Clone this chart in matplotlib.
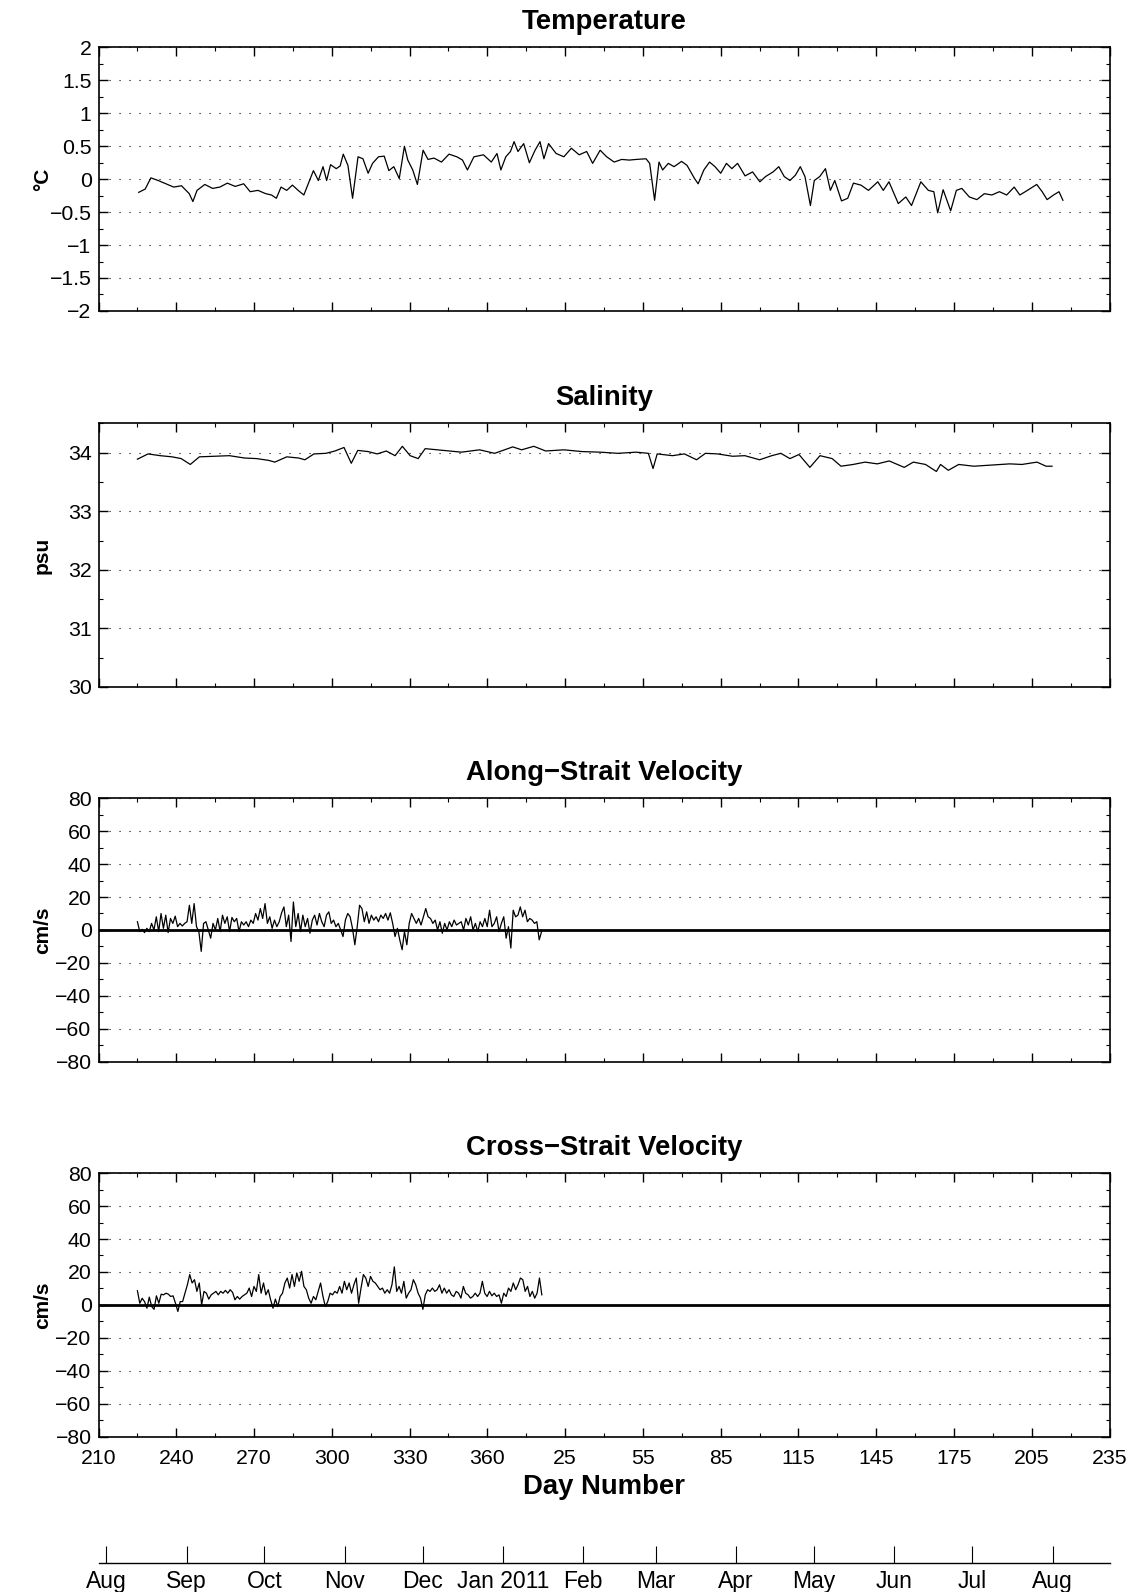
import numpy as np
import matplotlib
matplotlib.use('Agg')
import matplotlib.pyplot as plt
from matplotlib.ticker import MultipleLocator, FixedLocator
from datetime import date

plt.rcParams['font.family'] = ['Liberation Sans', 'DejaVu Sans']
plt.rcParams['axes.unicode_minus'] = True

#######################################################################################
# DATA (day number counted from 1 Jan 2010, so 366 = 1 Jan 2011)
#######################################################################################
temp_day = [225.5, 228, 230.2, 233, 236, 239, 242, 245, 246.4, 248, 251, 254, 256.8,
            259.7, 262.7, 266, 268.5, 271.5, 274.5, 276.7, 278.6, 280.4, 282.6, 284.8,
            287, 289.2, 290.7, 292.9, 294.8, 296.6, 298, 299.5, 301.7, 303.2, 304.4,
            306.2, 308, 310.1, 312, 314, 315.7, 318, 320.2, 322, 323.9, 326, 328, 329.3,
            331.2, 333, 335.2, 337.1, 339.4, 342.3, 345.2, 348.2, 350.4, 352.3, 354.8,
            358.5, 361.5, 363.7, 365.2, 367.1, 368.9, 370.3, 371.8, 374, 376.2, 378.4,
            380.3, 381.8, 383.6, 386.5, 389.5, 392.4, 395.4, 398.3, 400.6, 403.5,
            406, 408.9, 411.8, 414.7, 417.5, 421.2, 422.6, 424.5, 426.2, 427.6, 429.8,
            432, 434.9, 437, 439.9, 441.3, 443.5, 445.7, 447.8, 450, 452.2, 454.3, 456.5,
            459.4, 462.3, 465.1, 467.3, 470.2, 472.4, 474.5, 476.7, 478.8, 480.7, 482.5,
            484.6, 486.1, 488.2, 490.4, 492.3, 494, 496.6, 499, 501.2, 504.1, 507, 510.6,
            512.7, 514.9, 518.5, 521.4, 523.6, 527.2, 530.1, 532.2, 533.7, 535.8, 538.7,
            540.9, 543, 545.9, 548.8, 551.7, 554.6, 557.5, 560.3, 563.2, 565.4, 568.3,
            571.9, 574, 575.9, 578.4, 580.5, 582]
temp_val = [-0.20, -0.15, 0.02, -0.02, -0.07, -0.12, -0.10, -0.22, -0.34, -0.17, -0.08,
            -0.14, -0.12, -0.06, -0.11, -0.07, -0.19, -0.17, -0.22, -0.24, -0.29, -0.12,
            -0.17, -0.09, -0.17, -0.24, -0.09, 0.13, -0.02, 0.19, -0.02, 0.22, 0.16, 0.20,
            0.38, 0.21, -0.29, 0.34, 0.31, 0.09, 0.24, 0.34, 0.35, 0.13, 0.19, 0.01, 0.50,
            0.29, 0.14, -0.08, 0.44, 0.30, 0.32, 0.26, 0.38, 0.34, 0.29, 0.14, 0.34, 0.37,
            0.26, 0.39, 0.14, 0.34, 0.42, 0.57, 0.42, 0.54, 0.25, 0.44, 0.57, 0.31, 0.54,
            0.39, 0.34, 0.47, 0.37, 0.42, 0.24, 0.44,
            0.34, 0.26, 0.30, 0.29, 0.30, 0.31, 0.24, -0.32, 0.26, 0.14, 0.24, 0.19, 0.27,
            0.21, 0.01, -0.07, 0.14, 0.26, 0.19, 0.09, 0.24, 0.16, 0.24, 0.05, 0.11, -0.04,
            0.04, 0.11, 0.19, 0.04, -0.02, 0.06, 0.19, 0.04, -0.40, -0.02, 0.04, 0.16,
            -0.17, -0.02, -0.33, -0.29, -0.06, -0.09, -0.17, -0.04, -0.17, -0.04, -0.37,
            -0.27, -0.40, -0.04, -0.17, -0.19, -0.51, -0.16, -0.48, -0.17, -0.14, -0.27,
            -0.31, -0.22, -0.24, -0.19, -0.24, -0.12, -0.24, -0.17, -0.08, -0.19, -0.31,
            -0.24, -0.19, -0.32]

sal_day = [225, 229.1, 233.8, 238.4, 241.9, 245.4, 248.9, 254.7, 260.5, 266.3, 271,
           275.6, 278, 282.6, 287.2, 289.6, 293.1, 297.7, 301.2, 304.7, 307.5, 310, 314,
           317.5, 321, 324.4, 327.2, 330.2, 333.3, 336, 343, 350, 357, 362.8, 369.8,
           373.2, 377.9, 382.5, 389.5, 396.5, 403.5, 410.4, 417.4, 422.1, 423.9, 425.5,
           431.4, 436, 440.7, 444.1, 448.8, 454.6, 459.3, 465, 469.7, 473.2, 476.7,
           480.2, 484.4, 488.3, 493, 496.4, 501.1, 505.7, 510.4, 515, 520.8, 524.3, 529,
           533.2, 534.8, 537.8, 541.8, 547.6, 554.6, 561.5, 566.2, 572, 575.5, 577.8]
sal_val = [33.89, 33.98, 33.95, 33.93, 33.90, 33.80, 33.93, 33.94, 33.95, 33.91, 33.90,
           33.87, 33.84, 33.93, 33.91, 33.88, 33.98, 33.99, 34.03, 34.09, 33.82, 34.04,
           34.02, 33.98, 34.03, 33.95, 34.11, 33.95, 33.90, 34.07, 34.04, 34.01, 34.05,
           33.99, 34.10, 34.05, 34.11, 34.03, 34.05, 34.02, 34.01, 33.99, 34.01, 33.99,
           33.73, 33.98, 33.95, 33.98, 33.88, 33.99, 33.98, 33.94, 33.95, 33.88, 33.95,
           33.99, 33.90, 33.97, 33.75, 33.95, 33.90, 33.77, 33.80, 33.84, 33.81, 33.86,
           33.75, 33.84, 33.80, 33.68, 33.80, 33.70, 33.80, 33.77, 33.79, 33.81, 33.80,
           33.84, 33.77, 33.77]

# velocities were read at roughly even steps between first and last record
along_start, along_end = 225.0, 380.9
along_val = [5, -1, 0.4, -1.6, 1, -1, 4, 0, 8, -1, 10, 1, 9, -1.6, 7, 4, 8.4, 2, 4, 2.4,
             4, 5, 15, 4, 16, 2, -1, -13, 4, 5, 0, -5, 4, 0, 7, -1, 9, 4, 8, -1, 7.6, 5,
             7, -1, 5, 3, 5, 2, 6, 4, 10, 6, 13, 7, 16, 4, 8, 1, 6, 2, 5, 10.4, 14, 2, 9,
             -7, 17, 2, 10, -1, 9, 2, 7, -2, 6, 9, 3, 10, 5, 2, 9, 11, 4, 6, 2, 4, 0, -4,
             6, 10, 8, 1, -9, 2, 15, 13, 5, 11, 4, 9, 6, 8, 5, 9, 7, 10, 6, 10.4, 4, -4,
             1, -6, -12, -1, -9, 4, 10, 7, 4, 7, 3, 8, 13, 8, 7, 4, 6, 0, 5, -2, 4, 0, 5,
             2, 6, 3, 4, 5, 0, 7, 3, 8, 0, 4, -1, 5, 2, 7, 2, 12, 2, 4, 8, -1, 4, 8, -5,
             2, -11, 12, 8, 9, 14, 8, 12, 5, 7, 6, 4, 5, -6, -1]

cross_start, cross_end = 225.0, 381.0
cross_val = [8.6, 1, 4, 2, -2, 4.7, -1, -2.7, 5.5, 1, 6.5, 6.1, 7.1, 6.5, 5.1, 5.5, 1,
             -4, 2, 2, 7.1, 12.2, 18.4, 13.3, 15.3, 8.2, 13.3, 0, 8.2, 7.1, 3.5, 6.1,
             7.1, 8.2, 6.1, 8.2, 7.1, 8.8, 7.1, 9.2, 7.6, 3.1, 5.1, 3.5, 5.1, 6.1, 7.1,
             10.2, 5.1, 11.2, 8.2, 18.4, 7.1, 13.3, 6.1, 9.2, 3.1, -2, 3.5, -1, 5.1, 7.1,
             13.3, 16.3, 10.2, 18.4, 11.2, 19.4, 14.3, 20.4, 11.2, 9.2, 4.1, 1, 5.1, 3.1,
             8.2, 13.3, 5.1, -1, 2, 7.1, 6.1, 8.2, 7.1, 11.2, 7.1, 14.3, 9.2, 13.3, 7.1,
             12.2, 16.3, 1, 10.2, 18.4, 16.3, 11.2, 17.3, 14.3, 13.3, 11.2, 9.2, 10.2,
             7.1, 9.2, 7.1, 12.2, 23.1, 8.2, 11.2, 7.1, 14.3, 4.1, 7.1, 9.2, 15.3, 12.2,
             7.1, 4.1, -2.7, 6.1, 9.2, 8.2, 10.2, 8.2, 9.2, 12.2, 7.1, 10.2, 7.1, 9.2,
             6.1, 5.1, 8.2, 7.1, 4.1, 11.2, 7.1, 6.1, 4.1, 5.1, 7.1, 5.1, 7.1, 14.3, 7.1,
             5.1, 8.2, 5.5, 7.1, 5.1, 6.1, 1, 7.1, 5.1, 10.2, 8.2, 13.3, 9.2, 12.2, 16.3,
             15.3, 8.2, 11.2, 5.1, 8.2, 4.1, 7.1, 16.3, 6.1]

along_day = np.linspace(along_start, along_end, len(along_val))
cross_day = np.linspace(cross_start, cross_end, len(cross_val))

titles = ['Temperature', 'Salinity', 'Along\u2212Strait Velocity', 'Cross\u2212Strait Velocity']
ylabels = ['\u00b0C', 'psu', 'cm/s', 'cm/s']

month_dates = [date(2010, 8, 1), date(2010, 9, 1), date(2010, 10, 1), date(2010, 11, 1),
               date(2010, 12, 1), date(2011, 1, 1), date(2011, 2, 1), date(2011, 3, 1),
               date(2011, 4, 1), date(2011, 5, 1), date(2011, 6, 1), date(2011, 7, 1),
               date(2011, 8, 1)]
month_labels = ['Aug', 'Sep', 'Oct', 'Nov', 'Dec', 'Jan 2011', 'Feb', 'Mar', 'Apr',
                'May', 'Jun', 'Jul', 'Aug']

#######################################################################################
# PLOTTING
#######################################################################################
xmin, xmax = 210, 600
xticks = np.arange(xmin, xmax + 1, 30)
xticklabels = [str(d if d <= 365 else d - 365) for d in xticks]


def fmt(v):
    s = '%g' % v
    return s.replace('-', '\u2212')


fig = plt.figure(figsize=(11.35, 15.92), dpi=100)
left, width, height = 0.0868, 0.8908, 0.1655
bottoms = [0.8047, 0.5685, 0.3331, 0.0976]

series = [(temp_day, temp_val), (sal_day, sal_val), (along_day, along_val), (cross_day, cross_val)]
ylims = [(-2, 2), (30, 34.5), (-80, 80), (-80, 80)]
ymajor = [np.arange(-2, 2.01, 0.5), np.arange(30, 34.01, 1), np.arange(-80, 81, 20), np.arange(-80, 81, 20)]
yminor = [0.25, 0.5, 10, 10]

for i in range(4):
    ax = fig.add_axes([left, bottoms[i], width, height])
    x, y = series[i]
    if i >= 2:
        ax.axhline(0, color='k', lw=2.0, zorder=1)
    ax.plot(x, y, color='k', lw=0.9, zorder=2)
    ax.set_xlim(xmin, xmax)
    ax.set_ylim(*ylims[i])
    ax.set_xticks(xticks)
    ax.xaxis.set_minor_locator(MultipleLocator(15))
    ax.set_yticks(ymajor[i])
    ax.set_yticklabels([fmt(v) for v in ymajor[i]])
    ax.yaxis.set_minor_locator(MultipleLocator(yminor[i]))
    for yv in ymajor[i]:
        ax.axhline(yv, color='k', lw=0.8, ls=(0, (1, 8)), zorder=0)
    ax.tick_params(which='both', direction='in', top=True, right=True, labelsize=15.3)
    ax.tick_params(axis='y', which='major', pad=5)
    ax.tick_params(axis='x', which='major', pad=9)
    ax.tick_params(which='major', length=6.5, width=1.0)
    ax.tick_params(which='minor', length=3.2, width=0.8)
    for s in ax.spines.values():
        s.set_linewidth(1.2)
    if i == 3:
        ax.set_xticklabels(xticklabels)
        ax.set_xlabel('Day Number', fontsize=19.8, fontweight='bold', labelpad=4)
    else:
        ax.set_xticklabels([])
    ax.set_title(titles[i], fontsize=19.8, fontweight='bold', pad=13)
    ax.set_ylabel(ylabels[i], fontsize=15, fontweight='bold')
    ax.yaxis.set_label_coords(-0.0555, 0.5)
    ax.yaxis.label.set_va('center')

# month axis below the day-number axis
month_pos = [(d - date(2010, 1, 1)).days + 1 for d in month_dates]
axm = fig.add_axes([left, 0.0180, width, 0.0005])
axm.set_xlim(xmin, xmax)
axm.set_ylim(0, 1)
axm.set_yticks([])
for side in ['top', 'left', 'right']:
    axm.spines[side].set_visible(False)
axm.spines['bottom'].set_linewidth(1.0)
axm.xaxis.set_major_locator(FixedLocator(month_pos))
axm.set_xticklabels(month_labels)
axm.tick_params(axis='x', direction='in', length=12, width=0.8, labelsize=16.5, pad=5)
axm.patch.set_visible(False)

fig.savefig('out.png', dpi=100)
